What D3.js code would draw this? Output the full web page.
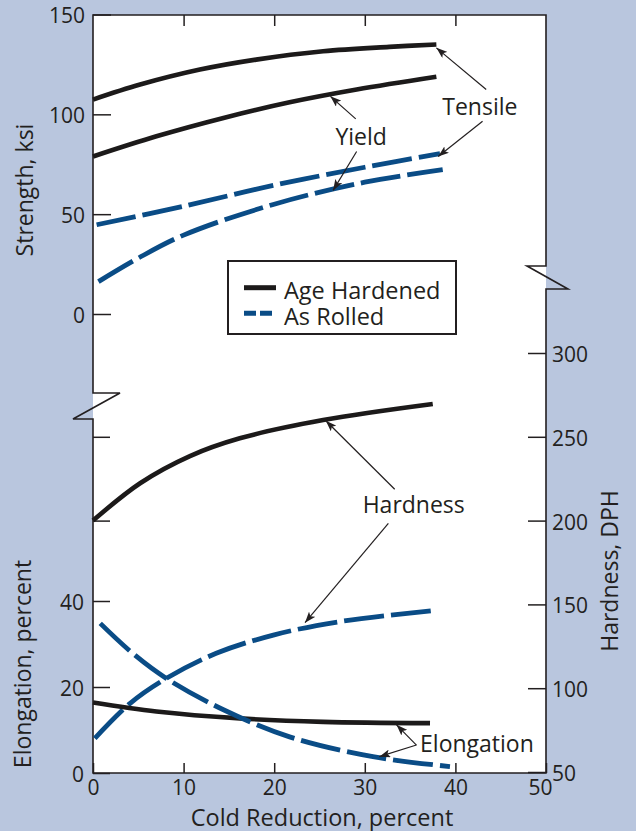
<!DOCTYPE html>
<html><head><meta charset="utf-8">
<script src="https://cdn.jsdelivr.net/npm/d3@7"></script>
<style>
body{margin:0;background:#b9c6de;}
svg{display:block;}
text{font-family:"Open Sans",sans-serif;fill:#231f20;}
</style>
</head><body>
<svg id="chart" width="636" height="831"></svg>
<script>
// ---- data (x = cold reduction %, y = property value) ----
const tensileAgeHardened = [[0,107.4],[5.2,114.9],[11.8,122.4],[18,127.4],[25.4,131.6],[32.7,133.8],[37.9,135]];
const yieldAgeHardened   = [[0,78.9],[7,89],[14.4,98.2],[21.7,106],[29.1,112.4],[37.9,118.8]];
const tensileAsRolled    = [[0.4,44.7],[10,54],[20,64.5],[30,73.5],[38.3,80.3]];
const yieldAsRolled      = [[0.6,16.2],[5,28],[10,39.5],[20,55],[30,66],[38.6,72.3]];
const hardnessAgeHardened = [[0,200],[5.2,222.3],[10.7,238.5],[16.2,249.1],[25.4,260],[37.5,269.6]];
const hardnessAsRolled    = [[0.2,70],[4.1,91],[8.1,105.9],[13.6,120.8],[19.9,131.7],[27.2,139.7],[37.5,146.2]];
const elongationAgeHardened = [[0,16.4],[7,14.3],[16.2,12.7],[25.4,11.9],[37.2,11.6]];
const elongationAsRolled    = [[0.8,34.8],[4.4,27.8],[8.1,22],[14.4,14.7],[21.7,8.4],[30.9,3.8],[39.4,1.5]];

const xTicks = [0,10,20,30,40,50];
const strengthTicks = [0,50,100,150];
const elongationTicks = [0,20,40];
const hardnessTicks = [50,100,150,200,250,300];
const hardnessLeftTicks = [200,250];
const legendLabels = ["Age Hardened","As Rolled"];

// annotations in data units
const tensileLabel = {text:"Tensile", at:[42.7,99.8], arrows:[[[43.4,112.4],[37.9,133.3]],[[43.0,96.5],[38.1,78.9]]]};
const yieldLabel   = {text:"Yield", at:[29.6,84.8], arrows:[[[29.0,97.7],[26.2,109.0]],[[29.1,81.4],[26.5,61.9]]]};
const hardnessLabel = {text:"Hardness", at:[35.4,204.4], arrows:[[[33.3,218.7],[25.7,259.6]],[[32.6,198.4],[23.4,139.1]]]};
const elongationLabel = {text:"Elongation", at:[36.1,4.95], arrows:[[[35.7,6.5],[33.5,11.2]],[[35.7,6.5],[31.6,3.8]]]};

// ---- layout ----
const L = 93, R = 546, T = 15, B = 773;
const black = "#1c1a1a", blue = "#0a4c86", ink = "#231f20";

const svg = d3.select("#chart");
const x = d3.scaleLinear().domain([0,50]).range([L,R]);
const yS = d3.scaleLinear().domain([0,150]).range([314,14.5]);
const yH = d3.scaleLinear().domain([50,300]).range([772,353]);
const yE = d3.scaleLinear().domain([0,40]).range([773,601]);

svg.append("rect").attr("x",L).attr("y",T).attr("width",R-L).attr("height",B-T).attr("fill","#fff");

const defs = svg.append("defs");
defs.append("marker").attr("id","arrow").attr("markerUnits","userSpaceOnUse")
  .attr("markerWidth",12).attr("markerHeight",8).attr("refX",11).attr("refY",4).attr("orient","auto")
  .append("path").attr("d","M0,0 L11,4 L0,8 L2.5,4 Z").attr("fill",ink);

function styleAxis(g){
  g.select(".domain").remove();
  g.selectAll(".tick line").attr("stroke",ink).attr("stroke-width",1.5);
  g.selectAll(".tick text").style("font-size","21px").attr("fill",ink);
}

// axes
svg.append("g").attr("transform",`translate(${L},0)`)
  .call(d3.axisLeft(yS).tickValues(strengthTicks).tickSizeInner(-18).tickSizeOuter(0).tickPadding(8).tickFormat(d3.format("d")))
  .call(styleAxis).selectAll(".tick text").attr("dy","0.4em");
svg.append("g").attr("transform",`translate(${L},0)`)
  .call(d3.axisLeft(yE).tickValues(elongationTicks).tickSizeInner(-17).tickSizeOuter(0).tickPadding(9).tickFormat(d3.format("d")))
  .call(styleAxis).selectAll(".tick text").attr("dy","0.4em");
svg.append("g").attr("transform",`translate(${L},0)`)
  .call(d3.axisLeft(yH).tickValues(hardnessLeftTicks).tickSizeInner(-17).tickSizeOuter(0).tickFormat(""))
  .call(styleAxis);
svg.append("g").attr("transform",`translate(${R},0)`)
  .call(d3.axisRight(yH).tickValues(hardnessTicks).tickSizeInner(-18).tickSizeOuter(0).tickPadding(6).tickFormat(d3.format("d")))
  .call(styleAxis).selectAll(".tick text").attr("dy","0.4em");
const xb = svg.append("g").attr("transform",`translate(0,${B})`)
  .call(d3.axisBottom(x).tickValues(xTicks).tickSizeInner(-10).tickSizeOuter(0).tickPadding(7).tickFormat(d3.format("d")))
  .call(styleAxis);
xb.selectAll(".tick text").filter(d=>d===50).attr("dx","-6");
svg.append("g").attr("transform",`translate(0,${T})`)
  .call(d3.axisTop(x).tickValues(xTicks.filter(d=>d>0&&d<50)).tickSizeInner(-11).tickSizeOuter(0).tickFormat(""))
  .call(styleAxis);

// frame with break symbols
svg.append("path")
  .attr("d",`M${L},${T} H${R} V266 H527 L568,289 H${R} V${B} H${L} V419 H73 L120,393 H${L} Z`)
  .attr("fill","none").attr("stroke",ink).attr("stroke-width",1.6).attr("stroke-linejoin","miter");

// curves
function curve(data, ys, color, dashed){
  const line = d3.line().x(d=>x(d[0])).y(d=>ys(d[1])).curve(d3.curveCatmullRom.alpha(0.5));
  svg.append("path").attr("d",line(data)).attr("fill","none")
    .attr("stroke",color).attr("stroke-width",dashed?4.8:4.6)
    .attr("stroke-dasharray",dashed?"40,7":null).attr("stroke-linecap","butt");
}
curve(tensileAgeHardened,yS,black,false);
curve(yieldAgeHardened,yS,black,false);
curve(tensileAsRolled,yS,blue,true);
curve(yieldAsRolled,yS,blue,true);
curve(hardnessAgeHardened,yH,black,false);
curve(hardnessAsRolled,yH,blue,true);
curve(elongationAgeHardened,yE,black,false);
curve(elongationAsRolled,yE,blue,true);

// annotations
function annotate(a, ys, anchor){
  a.arrows.forEach(([p,q])=>{
    svg.append("line").attr("x1",x(p[0])).attr("y1",ys(p[1])).attr("x2",x(q[0])).attr("y2",ys(q[1]))
      .attr("stroke",ink).attr("stroke-width",1.2).attr("marker-end","url(#arrow)");
  });
  svg.append("text").attr("x",x(a.at[0])).attr("y",ys(a.at[1])).attr("text-anchor",anchor)
    .style("font-size","23px").text(a.text);
}
annotate(tensileLabel,yS,"middle");
annotate(yieldLabel,yS,"middle");
annotate(hardnessLabel,yH,"middle");
annotate(elongationLabel,yE,"start");

// legend
const lg = svg.append("g");
lg.append("rect").attr("x",228).attr("y",261).attr("width",228).attr("height",73)
  .attr("fill","#fff").attr("stroke",ink).attr("stroke-width",2);
[[black,false],[blue,true]].forEach(([c,d],i)=>{
  const yy = 287.7 + i*25.6;
  lg.append("line").attr("x1",244).attr("x2",276).attr("y1",yy).attr("y2",yy)
    .attr("stroke",c).attr("stroke-width",5).attr("stroke-dasharray",d?"12,4":null);
  lg.append("text").attr("x",284).attr("y",yy+5.5).attr("dy","0.25em").style("font-size","23.5px").text(legendLabels[i]);
});

// axis titles
svg.append("text").attr("transform","translate(33,190) rotate(-90)").attr("text-anchor","middle").style("font-size","23px").text("Strength, ksi");
svg.append("text").attr("transform","translate(31,664) rotate(-90)").attr("text-anchor","middle").style("font-size","23px").text("Elongation, percent");
svg.append("text").attr("transform","translate(618,571) rotate(-90)").attr("text-anchor","middle").style("font-size","23px").text("Hardness, DPH");
svg.append("text").attr("x",322).attr("y",825.5).attr("text-anchor","middle").style("font-size","23.5px").text("Cold Reduction, percent");
</script>
</body></html>
